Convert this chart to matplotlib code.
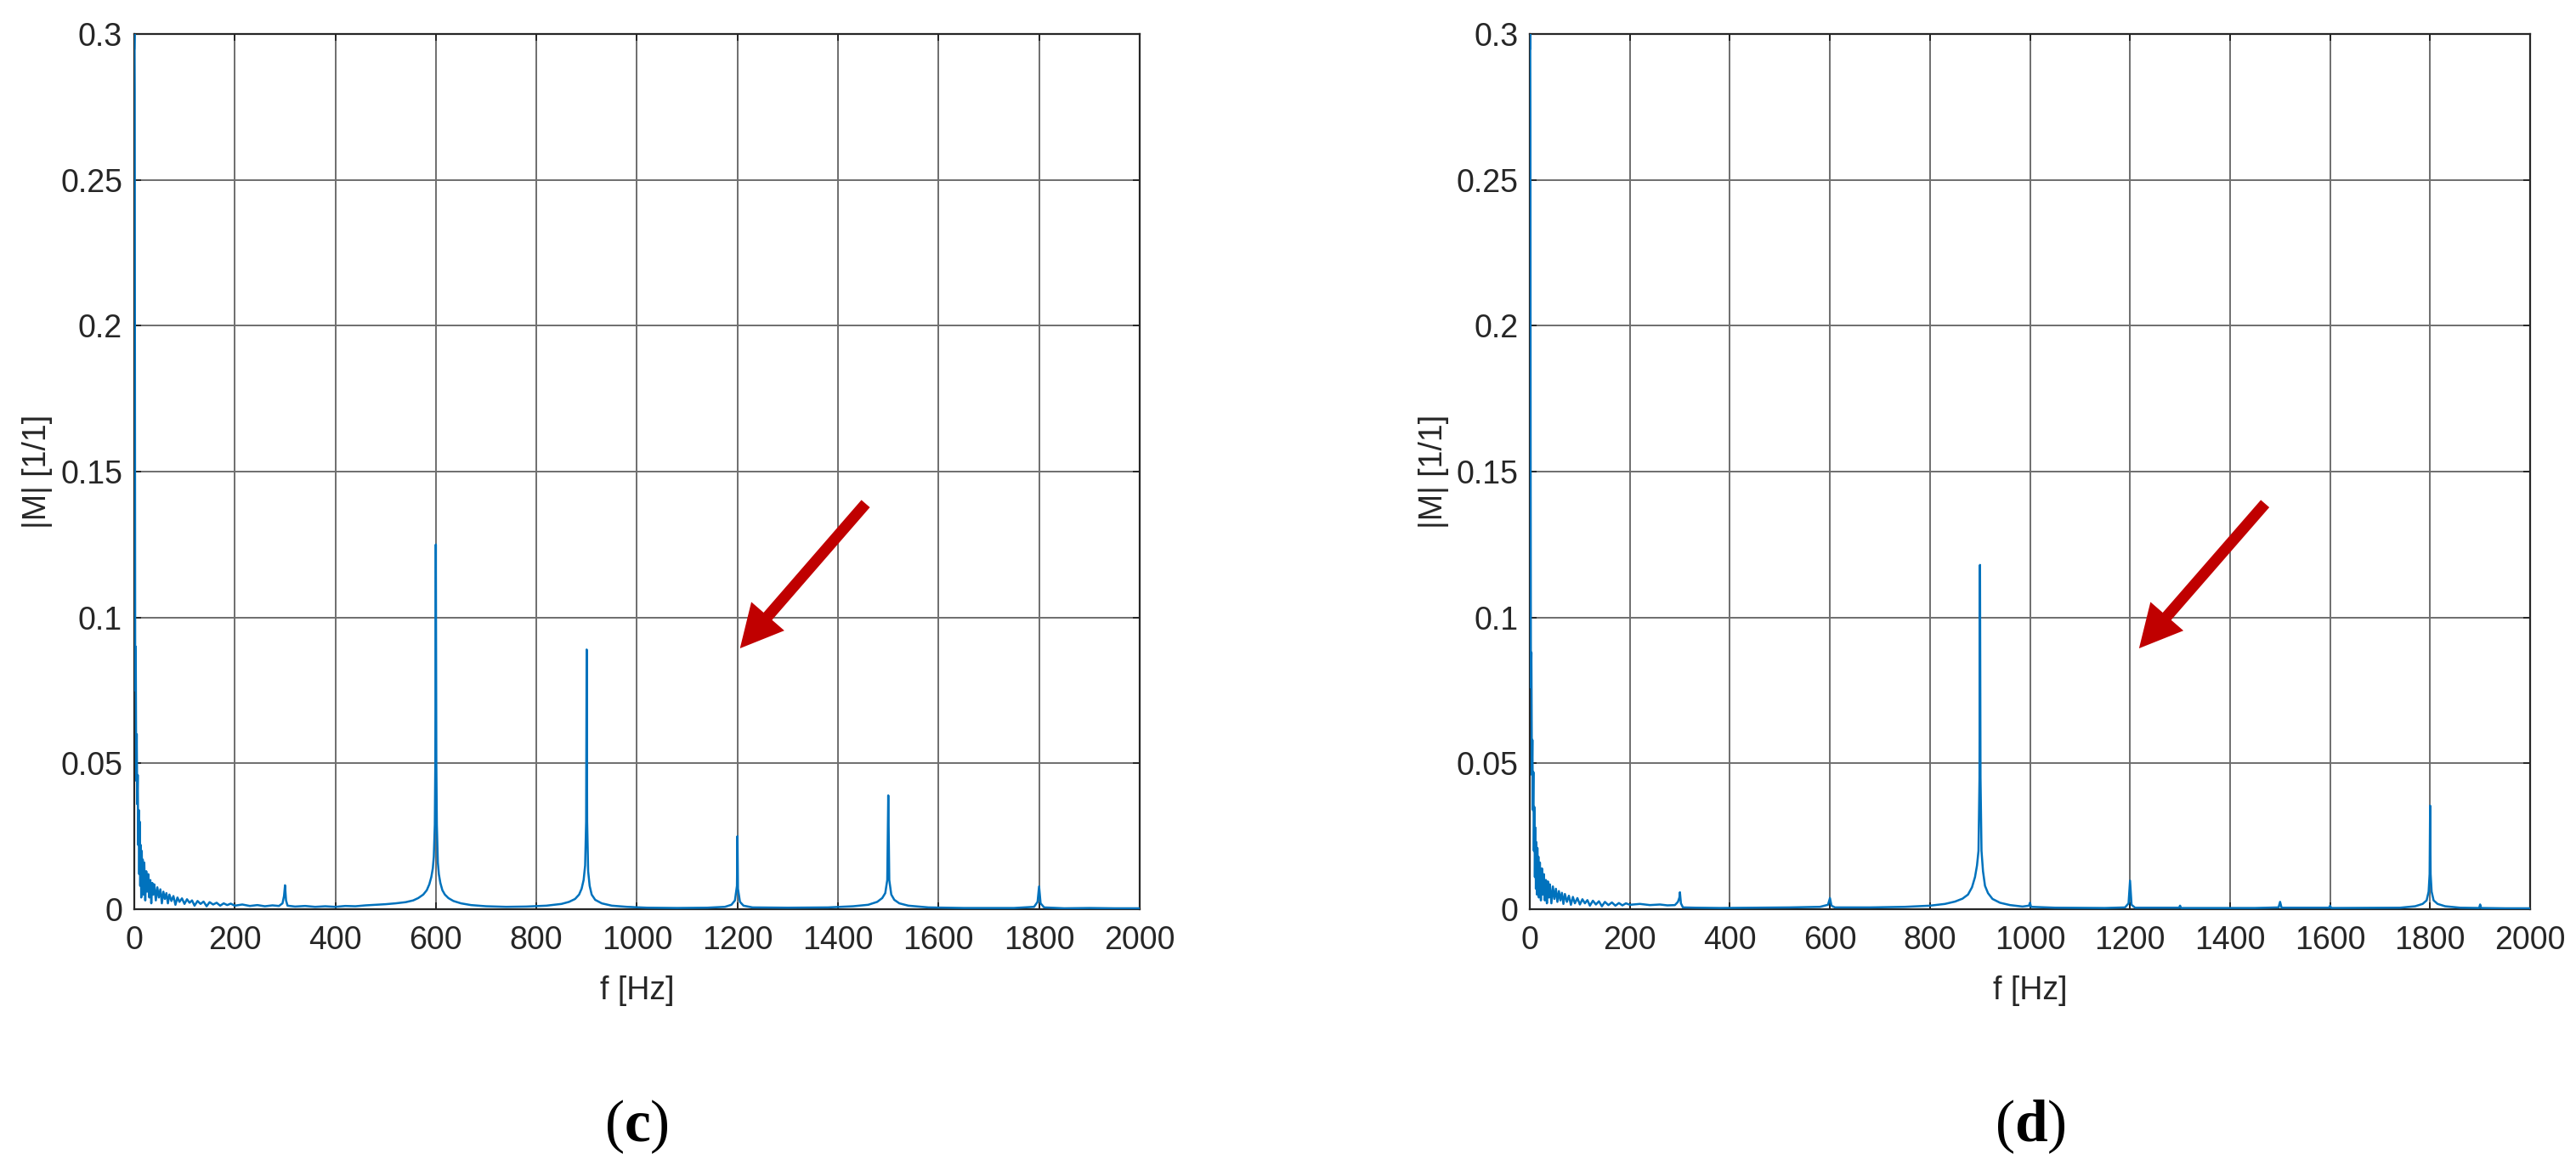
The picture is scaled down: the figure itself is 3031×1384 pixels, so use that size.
import matplotlib
matplotlib.use('Agg')
import matplotlib.pyplot as plt

plt.rcParams['font.family'] = ['Liberation Sans', 'DejaVu Sans']
plt.rcParams['mathtext.fontset'] = 'custom'
plt.rcParams['mathtext.rm'] = 'Liberation Serif'
plt.rcParams['mathtext.bf'] = 'Liberation Serif:bold'

# ---------------- data: panel (c) ----------------
f_c = [0, 0.5, 1, 1.5, 2, 3, 4, 5, 6, 7, 8, 9, 10, 11, 12, 13, 14, 15, 16, 17, 18, 20, 22, 24, 26, 28, 30,
       32, 34, 36, 38, 40, 43, 46, 49, 52, 55, 58, 61, 64, 67, 70, 74, 78, 82, 86, 90, 95, 100, 105, 110,
       115, 120, 126, 132, 138, 144, 150, 157, 164, 171, 178, 185, 192,
       200, 215, 230, 245, 260, 275, 288, 295, 298, 300, 302, 305, 320, 340, 360, 380, 400, 420, 440, 460,
       480, 500, 520, 540, 555, 565, 575, 582, 587, 591, 594, 596, 598, 599, 600, 601, 602, 604, 606, 609,
       613, 618, 625, 635, 650, 670, 700, 740, 780, 820, 850, 865, 877, 885, 890, 894, 897, 899, 900, 901,
       903, 906, 910, 917, 930, 950, 980, 1020, 1080, 1140, 1175, 1188, 1195, 1199, 1200, 1201, 1205, 1212,
       1230, 1300, 1380, 1430, 1460, 1478, 1488, 1494, 1498, 1500, 1502, 1506, 1512, 1522, 1540, 1580,
       1650, 1750, 1790, 1797, 1800, 1803, 1810, 1850, 1900, 1950, 2000]
m_c = [0.295, 0.30, 0.28, 0.16, 0.075, 0.090, 0.044, 0.060, 0.036, 0.046, 0.022, 0.034, 0.012, 0.030,
       0.008, 0.022, 0.004, 0.020, 0.009, 0.017, 0.005, 0.016, 0.003, 0.013, 0.006, 0.012, 0.004, 0.010,
       0.002, 0.009, 0.005, 0.0085, 0.003, 0.0075, 0.004, 0.0068, 0.002, 0.006, 0.0035, 0.0055, 0.002,
       0.005, 0.0028, 0.0045, 0.0015, 0.004, 0.0025, 0.0037, 0.0018, 0.0034, 0.0022, 0.003, 0.0012,
       0.0028, 0.0018, 0.0026, 0.001, 0.0024, 0.0016, 0.0022, 0.0012, 0.002, 0.0014, 0.0019,
       0.0012, 0.0016, 0.0011, 0.0014, 0.001, 0.0013, 0.0011, 0.002, 0.0045, 0.0082, 0.003, 0.0012,
       0.0009, 0.0011, 0.0008, 0.001, 0.0008, 0.0011, 0.001, 0.0013, 0.0015, 0.0017, 0.002, 0.0024,
       0.003, 0.0038, 0.005, 0.0065, 0.0085, 0.011, 0.014, 0.018, 0.029, 0.05, 0.125, 0.05, 0.029, 0.016,
       0.012, 0.009, 0.0065, 0.005, 0.0038, 0.0028, 0.002, 0.0014, 0.001, 0.0008, 0.0009, 0.0012, 0.0018,
       0.0025, 0.0035, 0.005, 0.007, 0.010, 0.015, 0.03, 0.089, 0.03, 0.013, 0.008, 0.005, 0.0032, 0.002,
       0.0012, 0.0008, 0.0005, 0.0004, 0.0005, 0.0008, 0.0015, 0.003, 0.008, 0.025, 0.007, 0.0025, 0.0012,
       0.0006, 0.0005, 0.0006, 0.001, 0.0015, 0.0025, 0.0038, 0.0055, 0.01, 0.039, 0.01, 0.005, 0.0032,
       0.002, 0.0012, 0.0006, 0.0004, 0.0004, 0.0008, 0.0025, 0.0078, 0.002, 0.0006, 0.0003, 0.0004,
       0.0003, 0.0003]

# ---------------- data: panel (d) ----------------
f_d = [0, 0.5, 1, 1.5, 2, 3, 4, 5, 6, 7, 8, 9, 10, 11, 12, 13, 14, 15, 16, 17, 18, 20, 22, 24, 26, 28, 30,
       32, 34, 36, 38, 40, 43, 46, 49, 52, 55, 58, 61, 64, 67, 70, 74, 78, 82, 86, 90, 95, 100, 105, 110,
       115, 120, 126, 132, 138, 144, 150, 157, 164, 171, 178, 185, 192,
       200, 220, 240, 260, 275, 290, 296, 299, 300, 302, 306, 330, 380, 450, 520, 580, 596, 600, 603, 610,
       680, 750, 800, 830, 850, 865, 876, 884, 890, 894, 897, 899, 900, 901, 903, 906, 910, 916, 925, 940,
       960, 985, 998, 1000, 1002, 1050, 1150, 1190, 1197, 1200, 1203, 1210, 1298, 1300, 1302, 1450, 1497,
       1500, 1503, 1598, 1600, 1602, 1740, 1770, 1785, 1793, 1797, 1799, 1800, 1801, 1803, 1807, 1815,
       1830, 1860, 1898, 1900, 1902, 1950, 2000]
m_d = [0.295, 0.30, 0.27, 0.15, 0.076, 0.088, 0.046, 0.058, 0.034, 0.047, 0.02, 0.035, 0.011, 0.028,
       0.007, 0.023, 0.005, 0.021, 0.01, 0.018, 0.004, 0.016, 0.003, 0.014, 0.005, 0.012, 0.003, 0.010,
       0.002, 0.0095, 0.004, 0.0085, 0.002, 0.0078, 0.0035, 0.007, 0.0025, 0.0062, 0.003, 0.0056, 0.0018,
       0.0052, 0.0025, 0.0046, 0.0015, 0.0042, 0.002, 0.0038, 0.0016, 0.0034, 0.002, 0.0031, 0.0012,
       0.0029, 0.0016, 0.0027, 0.001, 0.0025, 0.0014, 0.0023, 0.0012, 0.0021, 0.0013, 0.002,
       0.0015, 0.0018, 0.0014, 0.0016, 0.0013, 0.0014, 0.0025, 0.004, 0.0058, 0.002, 0.0006, 0.0005,
       0.0004, 0.0005, 0.0006, 0.0008, 0.0015, 0.0038, 0.0012, 0.0006, 0.0006, 0.0008, 0.0012, 0.0018,
       0.0026, 0.0036, 0.005, 0.0075, 0.011, 0.015, 0.02, 0.045, 0.118, 0.045, 0.02, 0.013, 0.008, 0.0055,
       0.0035, 0.0022, 0.0014, 0.0009, 0.0012, 0.0022, 0.0008, 0.0005, 0.0004, 0.0006, 0.002, 0.0098,
       0.0015, 0.0005, 0.0005, 0.0012, 0.0004, 0.0004, 0.0006, 0.0025, 0.0005, 0.0005, 0.0012, 0.0004,
       0.0005, 0.001, 0.0018, 0.003, 0.006, 0.012, 0.0355, 0.012, 0.006, 0.003, 0.0018, 0.001, 0.0005,
       0.0004, 0.0016, 0.0004, 0.0003, 0.0003]

x_ticks = [0, 200, 400, 600, 800, 1000, 1200, 1400, 1600, 1800, 2000]
y_ticks = [0, 0.05, 0.1, 0.15, 0.2, 0.25, 0.3]
y_tick_labels = ['0', '0.05', '0.1', '0.15', '0.2', '0.25', '0.3']
panel_labels = ['c', 'd']
x_label = 'f [Hz]'
y_label = '|M| [1/1]'
# arrow (tail -> head) in data coordinates
arrows = [((1455, 0.139), (1205, 0.0894)), ((1470, 0.139), (1218, 0.0894))]

LINE = '#0072BD'
DARK = '#262626'

fig = plt.figure(figsize=(30.31, 13.84), dpi=100)
ax_c = fig.add_axes([0.0521, 0.2269, 0.3903, 0.7442])
ax_d = fig.add_axes([0.5939, 0.2269, 0.3883, 0.7442])

for ax, fx, mx, arr in [(ax_c, f_c, m_c, arrows[0]), (ax_d, f_d, m_d, arrows[1])]:
    ax.plot(fx, mx, color=LINE, lw=1.8, zorder=3)
    ax.set_xlim(0, 2000)
    ax.set_ylim(0, 0.3)
    ax.set_xticks(x_ticks)
    ax.set_yticks(y_ticks)
    ax.set_yticklabels(y_tick_labels)
    ax.grid(True, color='#6e6e6e', lw=1.4, zorder=0)
    ax.set_axisbelow(True)
    ax.tick_params(direction='in', length=6, width=1.4, colors=DARK, labelsize=27,
                   top=True, right=True, pad=10)
    ax.tick_params(axis='x', pad=14)
    for s in ax.spines.values():
        s.set_color(DARK)
        s.set_linewidth(1.6)
    ax.set_xlabel(x_label, fontsize=27, color=DARK)
    ax.set_ylabel(y_label, fontsize=27, color=DARK)
    ax.xaxis.set_label_coords(0.5, -0.076)
    ax.yaxis.set_label_coords(-0.081, 0.5)
    (tx, ty), (hx, hy) = arr
    ax.annotate('', xy=(hx, hy), xytext=(tx, ty), zorder=5,
                arrowprops=dict(arrowstyle='simple,head_length=3.6,head_width=3.7,tail_width=0.95',
                                mutation_scale=10, color='#C00000', lw=0,
                                shrinkA=0, shrinkB=0))

for ax, lab in zip([ax_c, ax_d], panel_labels):
    pos = ax.get_position()
    fig.text((pos.x0 + pos.x1) / 2, 0.0419, r'$\mathrm{(}\mathbf{%s}\mathrm{)}$' % lab,
             fontsize=50, ha='center', va='center', color='black')

fig.savefig('out.png', dpi=100, facecolor='white')
